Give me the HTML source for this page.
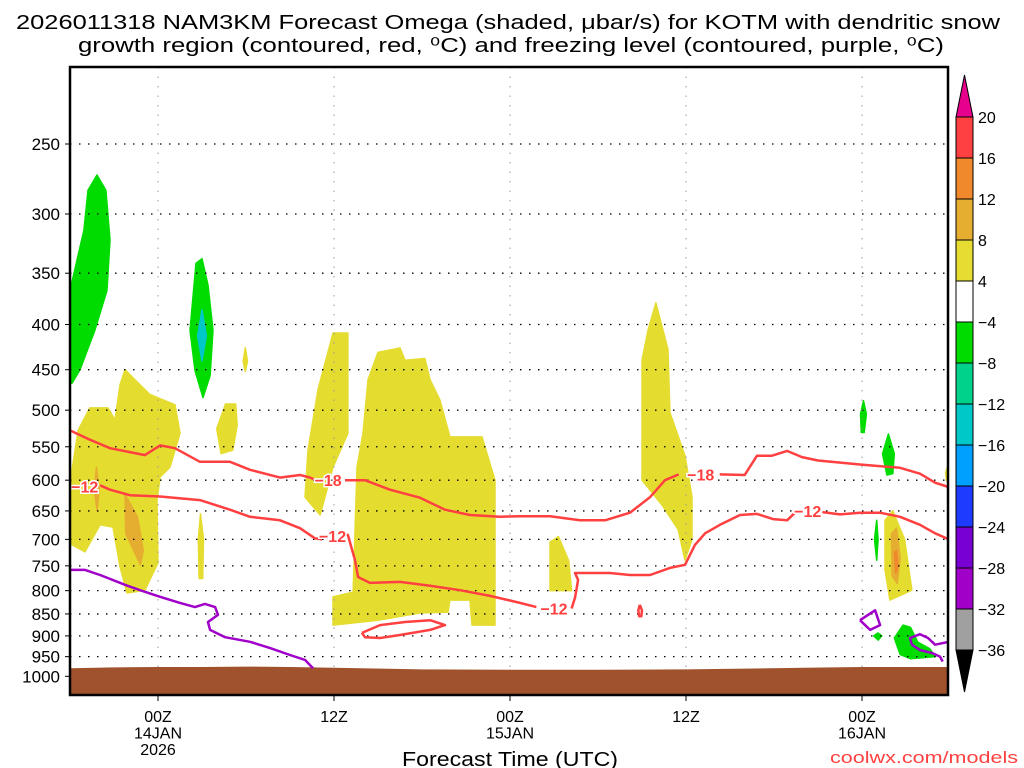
<!DOCTYPE html>
<html><head><meta charset="utf-8">
<style>
html,body{margin:0;padding:0;background:#fff;}
svg{display:block;font-family:"Liberation Sans",sans-serif;}
</style></head>
<body>
<svg id="chart" width="1024" height="768" viewBox="0 0 1024 768" xmlns="http://www.w3.org/2000/svg">
<rect x="0" y="0" width="1024" height="768" fill="#fff"/>
<text x="16" y="29" font-size="20" textLength="984" lengthAdjust="spacingAndGlyphs" fill="#000">2026011318 NAM3KM Forecast Omega (shaded, μbar/s) for KOTM with dendritic snow</text>
<text x="78" y="52" font-size="20" textLength="866" lengthAdjust="spacingAndGlyphs" fill="#000">growth region (contoured, red, ⁰C) and freezing level (contoured, purple, ⁰C)</text>
<g id="plot"></g>
<g id="axes"></g>
<g id="cbar"></g>
<text x="510" y="766" font-size="20" text-anchor="middle" textLength="216" lengthAdjust="spacingAndGlyphs" fill="#000">Forecast Time (UTC)</text>
<text x="1018" y="763" font-size="17" text-anchor="end" textLength="188" lengthAdjust="spacingAndGlyphs" fill="#ff4040">coolwx.com/models</text>
</svg>
<script>
// ---- data (hours relative to 14JAN 00Z, pressure hPa) ----
const pressureTicks = [250,300,350,400,450,500,550,600,650,700,750,800,850,900,950,1000];
const timeTicks = [0,12,24,36,48];
const timeLabels = [["00Z","14JAN","2026"],["12Z"],["00Z","15JAN"],["12Z"],["00Z","16JAN"]];
const cbarLevels = [20,16,12,8,4,-4,-8,-12,-16,-20,-24,-28,-32,-36];
const cbarColors = ["#ff4040","#f0882c","#e6ae30","#e6dc32","#ffffff","#00dc00","#00d28c","#00c8c8","#00a0ff","#1e3cff","#7800d2","#a000c8","#a0a0a0"];
const surfaceHours = [-6,-3,0,3,6,9,12,18,24,30,36,40,44,48,51,54];
const surfacePres = [979,977,976,976,975,976,978,982,983,983,982,980,978,976,976,976];

const yellowAreas = [
 [[-6,605],[-5.45,527],[-4.64,497],[-3.41,497],[-2.93,513],[-2.59,468],[-2.25,450],[-1.57,462],[-0.55,480],[1.16,493],[1.5,531],[0.82,580],[0.14,595],[-0.07,632],[0,744],[-0.89,799],[-2.11,805],[-2.59,752],[-3.07,678],[-3.95,674],[-4.98,723],[-5.86,710],[-6,710]],
 [[4.0,525],[4.6,492],[5.3,492],[5.4,520],[5.1,555],[4.3,560]],
 [[2.75,700],[2.9,655],[3.1,700],[3.05,775],[2.8,775]],
 [[5.8,440],[5.95,425],[6.1,440],[5.95,452]],
 [[10.02,627],[10.23,555],[10.91,474],[11.93,409],[12.95,409],[12.95,531],[11.93,580],[11.05,657]],
 [[13.57,580],[13.98,531],[14.32,462],[15.0,430],[15.95,427],[16.5,425],[16.84,439],[18.2,437],[18.55,462],[19.23,487],[19.9,536],[22.09,536],[22.98,600],[22.98,875],[21.41,875],[21.27,820],[19.9,820],[19.77,846],[17.86,848],[15.0,864],[11.93,875],[11.93,813],[13.3,803]],
 [[26.73,705],[27.3,695],[28.0,740],[28.2,800],[26.73,800]],
 [[33.95,378],[34.77,427],[34.9,503],[35.93,563],[36.41,627],[36.41,700],[35.93,739],[35.46,682],[34.36,640],[33.0,600],[33.0,439],[33.41,406]],
 [[49.57,666],[50.1,650],[50.9,700],[51.4,799],[49.9,820],[49.57,758]],
 [[53.7,588],[53.9,575],[53.9,605],[53.75,600]]
];
const orangeAreas = [
 [[-4.2,580],[-4.0,615],[-4.15,650],[-4.35,615]],
 [[-2.25,622],[-1.4,660],[-1.0,720],[-1.2,748],[-2.2,690]],
 [[50.0,690],[50.35,680],[50.6,735],[50.4,785],[50.05,770]]
];
const redAreas = [
 [[50.2,725],[50.35,720],[50.45,750],[50.3,765]]
];
const greenAreas = [
 [[-6,366],[-5.05,313],[-4.77,282],[-4.16,271],[-3.55,282],[-3.27,321],[-3.48,366],[-4.3,406],[-5.32,450],[-5.86,466],[-6,466]],
 [[2.18,406],[2.59,341],[3.0,337],[3.41,361],[3.75,406],[3.55,457],[3.07,484],[2.52,451]],
 [[47.9,505],[48.1,488],[48.3,505],[48.15,530],[47.95,530]],
 [[49.4,560],[49.8,532],[50.2,560],[50.1,590],[49.7,592]],
 [[48.85,700],[49.0,666],[49.1,700],[49.0,739]],
 [[48.8,900],[49.1,893],[49.35,900],[49.1,910]],
 [[50.2,905],[50.8,875],[51.3,880],[51.8,915],[52.6,930],[53.0,950],[51.3,955],[50.6,945]]
];
const cyanAreas = [
 [[2.7,412],[3.0,385],[3.3,412],[3.0,440]]
];
const iso18Left = [[-6,527],[-4.64,540],[-3.27,552],[-0.89,562],[0.14,548],[1.16,552],[2.86,572],[4.91,572],[6.27,584],[8.32,596],[9.68,592],[10.36,596],[10.8,600]];
const iso18Mid = [[12.75,600],[14.11,600],[15.82,615],[17.86,628],[19.57,648],[21.27,657],[23.32,660],[24.68,659],[26.73,659],[28.77,666],[30.48,666],[32.18,653],[33.55,627],[34.57,600],[35.5,591]];
const iso18Right = [[38.3,591],[40.0,592],[40.84,563],[41.86,563],[42.89,556],[43.91,565],[45.0,570],[47.86,576],[50.59,581],[51.95,590],[52.98,604],[53.93,611]];
const iso12Left = [[-3.95,608],[-3.27,615],[-1.91,624],[0.14,626],[2.86,632],[4.91,648],[6.27,660],[8.32,666],[9.68,680],[10.7,698],[11.18,700]];
const iso12Mid = [[12.6,690],[12.95,692],[13.43,739],[13.64,772],[14.45,784],[16.5,782],[18.55,790],[20.59,799],[22.64,811],[24.68,826],[25.8,835]];
const iso12Mid2 = [[28.2,838],[28.43,815],[28.64,778],[28.43,764],[29.45,764],[30.82,764],[32.18,768],[33.55,768],[34.91,754],[35.93,748],[36.61,710],[37.3,689],[38.32,674],[39.68,657],[40.84,655],[41.93,664],[42.89,666],[43.43,653]];
const iso12Right = [[45.3,652],[46.5,656],[47.86,653],[49.23,653],[50.59,660],[51.95,674],[52.98,689],[53.93,700]];
const iso12Loop1 = [[13.9,893],[15.14,875],[16.84,868],[18.55,864],[19.57,875],[18.55,886],[16.5,898],[15.14,905],[14.11,903],[13.9,893]];
const iso12Loop2 = [[32.85,830],[33.0,842],[32.95,855],[32.8,855],[32.75,842],[32.85,830]];
const freezeLeft = [[-6,758],[-4.98,758],[-3.95,768],[-2.25,788],[-1.23,799],[0.14,813],[1.5,826],[2.52,835],[3.2,828],[3.89,835],[4.09,852],[3.41,868],[3.55,886],[4.57,903],[6.27,914],[7.64,929],[9.0,946],[10.02,958],[10.57,979]];
const freezeLoop = [[47.86,864],[48.89,842],[49.23,875],[48.55,886],[47.86,864]];
const freezeRight = [[53.93,914],[52.98,921],[52.5,905],[51.95,896],[51.27,905],[51.4,921],[51.95,934],[52.77,941],[53.32,950],[53.5,962]];
const labelItems = [["-12",-5.0,610],["-18",11.6,600],["-12",11.9,694],["-12",27.0,838],["-18",37.0,591],["-12",44.3,650]];

// ---- axis functions ----
const L=70,R=948,T=67,B=695;
function X(h){return 158 + h*14.667;}
function Y(p){return 144 + 384*Math.log(p/250);}
const NS="http://www.w3.org/2000/svg";
function mk(parent,tag,attrs){const e=document.createElementNS(NS,tag);for(const k in attrs)e.setAttribute(k,attrs[k]);parent.appendChild(e);return e;}
function pts(a){return a.map(d=>X(d[0]).toFixed(1)+","+Y(d[1]).toFixed(1)).join(" ");}

const plot=document.getElementById("plot");
const defs=mk(plot,"defs",{});
const cp=mk(defs,"clipPath",{id:"clip"});
mk(cp,"rect",{x:L,y:T,width:R-L,height:B-T});
const g=mk(plot,"g",{"clip-path":"url(#clip)"});

function areas(list,color,name){
  list.forEach(a=>{
    const el=mk(g,"polygon",{points:pts(a),fill:color,stroke:color,"stroke-width":1.5,"stroke-linejoin":"round"});
    
    
  });
}
areas(yellowAreas,"#e5dc30","omega-upward-4-8");
areas(orangeAreas,"#e6ae30","omega-upward-8-12");
areas(redAreas,"#f0882c","omega-upward-12-16");
areas(greenAreas,"#00dc00","omega-downward-4-8");
areas(cyanAreas,"#00c8c8","omega-downward-12-16");

// grid
const grid=mk(g,"g",{});
pressureTicks.forEach(p=>{
  const l=mk(grid,"line",{x1:L,x2:R,y1:Y(p),y2:Y(p),stroke:"#000","stroke-width":1.3,"stroke-dasharray":"1.5 7.5"});
  
  
});
timeTicks.forEach(h=>{
  const l=mk(grid,"line",{x1:X(h),x2:X(h),y1:T,y2:B,stroke:"#999","stroke-width":1,"stroke-dasharray":"1.5 8"});
  
  
});

// terrain
const terr=[[-7,1100]].concat(surfaceHours.map((h,i)=>[h,surfacePres[i]])).concat([[55,1100]]);
const tp=mk(g,"polygon",{points:pts(terr),fill:"#a0522d"});



function line(a,color,name){
  const el=mk(g,"polyline",{points:pts(a),fill:"none",stroke:color,"stroke-width":2.5,"stroke-linejoin":"round"});
  
  
}
[iso18Left,iso18Mid,iso18Right].forEach(a=>line(a,"#ff4040","dgz-minus18-contour"));
[iso12Left,iso12Mid,iso12Mid2,iso12Right,iso12Loop1,iso12Loop2].forEach(a=>line(a,"#ff4040","dgz-minus12-contour"));
[freezeLeft,freezeLoop,freezeRight].forEach(a=>line(a,"#a000c8","freezing-level-contour"));
labelItems.forEach(d=>{
  const t=mk(g,"text",{x:X(d[1]),y:Y(d[2])+6,"font-size":16,"font-weight":"bold",fill:"#ff4040","text-anchor":"middle",stroke:"#fff","stroke-width":3,"paint-order":"stroke"});
  t.textContent=d[0].replace("-","−");
  
  
});

// axes
const ax=document.getElementById("axes");
const fr=mk(ax,"rect",{x:L,y:T,width:R-L,height:B-T,fill:"none",stroke:"#000","stroke-width":2.5});


pressureTicks.forEach(p=>{
  mk(ax,"line",{x1:L-5,x2:L,y1:Y(p),y2:Y(p),stroke:"#000","stroke-width":1});
  const t=mk(ax,"text",{x:L-10,y:Y(p)+6,"font-size":17,"text-anchor":"end",fill:"#000"});
  t.textContent=p;
  
  
});
timeTicks.forEach((h,i)=>{
  mk(ax,"line",{x1:X(h),x2:X(h),y1:B,y2:B+6,stroke:"#000","stroke-width":1});
  timeLabels[i].forEach((s,j)=>{
    const t=mk(ax,"text",{x:X(h),y:B+27+j*16.5,"font-size":16,"text-anchor":"middle",fill:"#000"});
    t.textContent=s;
    
    
  });
});

// colorbar
const cb=document.getElementById("cbar");
const cx=956,cw=17,ctop=117,step=41;
cbarColors.forEach((c,i)=>{
  const r=mk(cb,"rect",{x:cx,y:ctop+i*step,width:cw,height:step,fill:c,stroke:"#000","stroke-width":1});
  
  
});
const cbEnd=ctop+cbarColors.length*step;
const up=mk(cb,"polygon",{points:`${cx},${ctop} ${cx+cw},${ctop} ${cx+cw/2},${ctop-42}`,fill:"#e6008c",stroke:"#000","stroke-width":1});


const dn=mk(cb,"polygon",{points:`${cx},${cbEnd} ${cx+cw},${cbEnd} ${cx+cw/2},${cbEnd+42}`,fill:"#000",stroke:"#000","stroke-width":1});


cbarLevels.forEach((v,i)=>{
  const t=mk(cb,"text",{x:978,y:ctop+i*step+6,"font-size":16,fill:"#000"});
  t.textContent=v<0?"−"+(-v):String(v);
  
  
});
</script>
</body></html>
